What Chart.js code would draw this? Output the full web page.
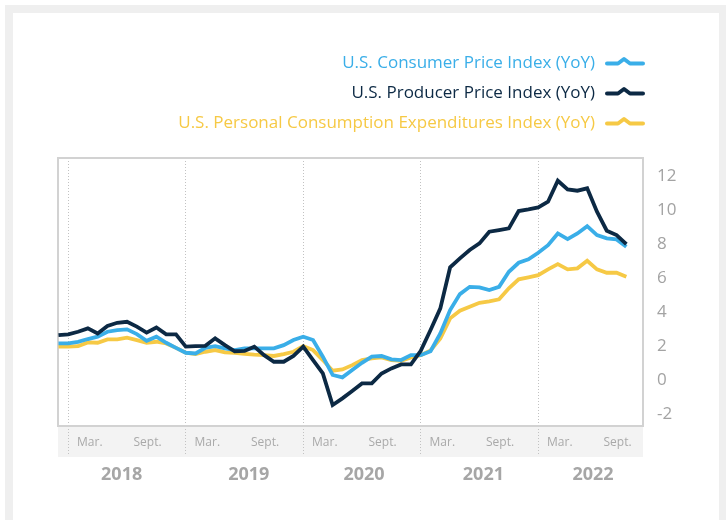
<!DOCTYPE html>
<html>
<head>
<meta charset="utf-8">
<script src="https://cdn.jsdelivr.net/npm/chart.js@4.4.1/dist/chart.umd.min.js"></script>
<style>
html,body{margin:0;padding:0;width:726px;height:520px;overflow:hidden;background:#ffffff;}
#frame{position:absolute;left:5px;top:5px;width:706px;height:600px;border:8px solid #efefef;border-bottom:none;}
#wrap{position:absolute;left:0;top:0;width:726px;height:520px;}
</style>
</head>
<body>
<div id="frame"></div>
<div id="wrap"><canvas id="c" width="726" height="520"></canvas></div>
<script>
// ---------- DATA ----------
const months = [
  "2017-12",
  "2018-01","2018-02","2018-03","2018-04","2018-05","2018-06","2018-07","2018-08","2018-09","2018-10","2018-11","2018-12",
  "2019-01","2019-02","2019-03","2019-04","2019-05","2019-06","2019-07","2019-08","2019-09","2019-10","2019-11","2019-12",
  "2020-01","2020-02","2020-03","2020-04","2020-05","2020-06","2020-07","2020-08","2020-09","2020-10","2020-11","2020-12",
  "2021-01","2021-02","2021-03","2021-04","2021-05","2021-06","2021-07","2021-08","2021-09","2021-10","2021-11","2021-12",
  "2022-01","2022-02","2022-03","2022-04","2022-05","2022-06","2022-07","2022-08","2022-09","2022-10"
];
const cpi = [
  2.16,
  2.16,2.25,2.42,2.56,2.85,2.95,2.99,2.71,2.32,2.56,2.20,1.90,
  1.61,1.57,1.90,2.00,1.87,1.77,1.87,1.87,1.87,1.87,2.06,2.36,
  2.56,2.36,1.38,0.30,0.16,0.59,1.02,1.38,1.42,1.22,1.18,1.47,
  1.47,1.70,2.75,4.13,5.07,5.50,5.47,5.31,5.50,6.39,6.92,7.12,
  7.51,7.96,8.65,8.32,8.65,9.08,8.55,8.36,8.30,7.87
];
const ppi = [
  2.65,
  2.70,2.85,3.05,2.75,3.19,3.38,3.44,3.15,2.80,3.10,2.70,2.70,
  1.97,2.00,2.02,2.46,2.06,1.70,1.72,1.97,1.47,1.08,1.08,1.42,
  1.97,1.18,0.39,-1.47,-1.08,-0.65,-0.20,-0.20,0.39,0.69,0.92,0.92,
  1.72,2.95,4.23,6.65,7.18,7.67,8.06,8.75,8.85,8.95,9.97,10.07,
  10.19,10.52,11.76,11.25,11.17,11.31,9.93,8.81,8.55,8.02
];
const pce = [
  1.97,
  1.97,2.00,2.22,2.20,2.40,2.40,2.50,2.36,2.20,2.26,2.16,1.90,
  1.61,1.53,1.67,1.77,1.63,1.60,1.55,1.50,1.47,1.42,1.53,1.67,
  2.00,1.77,1.18,0.55,0.63,0.88,1.18,1.28,1.34,1.18,1.14,1.34,
  1.47,1.75,2.46,3.64,4.09,4.33,4.56,4.64,4.76,5.41,5.94,6.06,
  6.19,6.53,6.84,6.53,6.59,7.04,6.53,6.33,6.33,6.10
];
const seriesNames = [
  "U.S. Consumer Price Index (YoY)",
  "U.S. Producer Price Index (YoY)",
  "U.S. Personal Consumption Expenditures Index (YoY)"
];
const years = ["2018","2019","2020","2021","2022"];
const monthTickNames = {"03":"Mar.","09":"Sept."};
const yTicks = [-2,0,2,4,6,8,10,12];

// ---------- STYLE / LAYOUT ----------
const colors = ["#3aaee8","#0c2944","#f6c945"];
const X_MIN = -0.05, X_MAX = 59.7;
const Y_MIN = -2.71, Y_MAX = 13.1;
const labelShift = {"03":0.2,"09":0.1};
const yearLabelShift = [5.45,6.44,6.2,6.4,5.6];

// x ticks: January grid lines + Mar./Sept. labels
const xTicks = [];
months.forEach((m,i)=>{
  const mm = m.slice(5);
  if (mm === "01") xTicks.push({value:i, label:"", grid:true});
  if (monthTickNames[mm]) xTicks.push({value:i+labelShift[mm], label:monthTickNames[mm], grid:false});
});
const yearTicks = years.map((y,k)=>({value: months.indexOf(y+"-01") + yearLabelShift[k], label:y}));

Chart.defaults.font.family = '"Open Sans", sans-serif';

const bandPlugin = {
  id:'band',
  beforeDraw(chart){
    const {ctx, chartArea:a} = chart;
    ctx.save();
    ctx.fillStyle = '#f3f3f3';
    ctx.fillRect(a.left, a.bottom, a.right-a.left, 31);
    ctx.restore();
  },
  beforeDatasetsDraw(chart){
    const {ctx, chartArea:a} = chart;
    ctx.save();
    ctx.strokeStyle = '#d2d2d2';
    ctx.lineWidth = 2;
    ctx.strokeRect(a.left, a.top, a.right-a.left, a.bottom-a.top);
    ctx.restore();
  }
};

const legendOrder = [0,1,2];
const legendPlugin = {
  id:'customLegend',
  afterDraw(chart){
    const ctx = chart.ctx;
    ctx.save();
    ctx.font = '500 17px "Open Sans", sans-serif';
    ctx.textAlign = 'right';
    ctx.textBaseline = 'alphabetic';
    legendOrder.forEach((di,r)=>{
      const ds = chart.data.datasets[di];
      const base = 68 + r*30;
      ctx.fillStyle = ds.borderColor;
      ctx.fillText(ds.label, 595, base);
      const by = base - 4.5;
      ctx.strokeStyle = ds.borderColor;
      ctx.lineWidth = 4;
      ctx.lineCap = 'round';
      ctx.lineJoin = 'round';
      ctx.beginPath();
      ctx.moveTo(607, by);
      ctx.lineTo(618, by);
      ctx.lineTo(624, by-4.5);
      ctx.lineTo(630, by);
      ctx.lineTo(643, by);
      ctx.stroke();
    });
    ctx.restore();
  }
};

const toPts = arr => arr.map((v,i)=>({x:i, y:v}));

new Chart(document.getElementById('c'), {
  type:'line',
  data:{
    datasets:[
      {label:seriesNames[0], data:toPts(cpi), borderColor:colors[0], backgroundColor:colors[0], order:2},
      {label:seriesNames[1], data:toPts(ppi), borderColor:colors[1], backgroundColor:colors[1], order:1},
      {label:seriesNames[2], data:toPts(pce), borderColor:colors[2], backgroundColor:colors[2], order:3}
    ]
  },
  options:{
    responsive:false,
    animation:false,
    devicePixelRatio:1,
    events:[],
    layout:{padding:{left:58, top:158, right:0, bottom:23}},
    elements:{
      line:{borderWidth:3.8, tension:0, fill:false},
      point:{radius:0, hoverRadius:0}
    },
    plugins:{legend:{display:false}, tooltip:{enabled:false}},
    scales:{
      x:{
        type:'linear', position:'bottom', weight:0,
        min:X_MIN, max:X_MAX,
        afterBuildTicks: s => { s.ticks = xTicks.map(t=>({value:t.value})); },
        afterFit: s => { s.height = 31; },
        ticks:{
          autoSkip:false, maxRotation:0, minRotation:0, padding:-21,
          color:'#a9a9a9', font:{size:12},
          callback:(v,i)=> xTicks[i] ? xTicks[i].label : ''
        },
        grid:{
          drawOnChartArea:true, drawTicks:true, tickLength:30, lineWidth:1, tickWidth:1,
          color: c => (xTicks[c.index] && xTicks[c.index].grid) ? '#c2c2c2' : 'rgba(0,0,0,0)',
          tickColor: c => (xTicks[c.index] && xTicks[c.index].grid) ? '#c2c2c2' : 'rgba(0,0,0,0)',
          tickBorderDash:[1,2]
        },
        border:{display:false, dash:[1,2]}
      },
      x2:{
        type:'linear', position:'bottom', weight:1,
        min:X_MIN, max:X_MAX,
        afterBuildTicks: s => { s.ticks = yearTicks.map(t=>({value:t.value})); },
        afterFit: s => { s.height = 40; },
        ticks:{
          autoSkip:false, maxRotation:0, minRotation:0, padding:7,
          color:'#a6a6a6', font:{size:18, weight:'bold'},
          callback:(v,i)=> yearTicks[i] ? yearTicks[i].label : ''
        },
        grid:{display:false, drawTicks:false},
        border:{display:false}
      },
      y:{
        position:'right',
        min:Y_MIN, max:Y_MAX,
        afterBuildTicks: s => { s.ticks = yTicks.map(v=>({value:v})); },
        afterFit: s => { s.width = 83; },
        ticks:{padding:14, color:'#a3a3a3', font:{size:17}, callback: v => String(v)},
        grid:{display:false, drawTicks:false},
        border:{display:false}
      }
    }
  },
  plugins:[bandPlugin, legendPlugin]
});
</script>
</body>
</html>
